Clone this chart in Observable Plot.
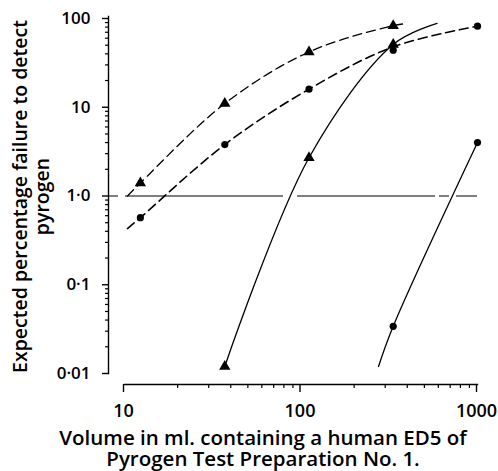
<!DOCTYPE html>
<html><head><meta charset="utf-8">
<script src="https://cdn.jsdelivr.net/npm/d3@7"></script>
<script src="https://cdn.jsdelivr.net/npm/@observablehq/plot@0.6"></script>
<style>body{margin:0;background:#fff} svg{display:block}</style>
</head><body><div id="chart"></div>
<script>
// Volumes (ml) of the test points
const volume = [12.3, 37, 111, 333, 1000];
// Points (triangles, dashed curve)
const triDashY = [1.4, 11, 42, 83];
// Points (circles, dashed curve)
const circDashY = [0.57, 3.8, 16, 44, 82];
// Points (triangles, solid curve)
const triSolidX = [37, 111, 333];
const triSolidY = [0.012, 2.7, 51];
// Points (circles, solid curve)
const circSolidX = [333, 1000];
const circSolidY = [0.034, 4.0];

// Curves (including their end points)
const triDashCurveX = [10.4, 12.3, 37, 111, 333, 400];
const triDashCurveY = [1.0, 1.4, 11, 42, 83, 88];
const circDashCurveX = [10.4, 12.3, 37, 111, 333, 1000];
const circDashCurveY = [0.43, 0.57, 3.8, 16, 48, 82];
const triSolidCurveX = [37, 111, 333, 590];
const triSolidCurveY = [0.012, 2.7, 51, 88];
const circSolidCurveX = [275, 333, 1000];
const circSolidCurveY = [0.012, 0.034, 4.0];

// Axes
const yTicks = [0.01, 0.1, 1, 10, 100];
const yTickLabels = ["0·01", "0·1", "1·0", "10", "100"];
const xTicks = [10, 100, 1000];
const xTickLabels = ["10", "100", "1000"];
const yMinor = [0.01, 0.1, 1, 10].flatMap(d => [2,3,4,5,6,7,8,9].map(k => d * k));
const xMinor = [10, 100].flatMap(d => [2,3,4,5,6,7,8,9].map(k => d * k));
const referenceLevel = [1];

const yLabel = "Expected percentage failure to detect\npyrogen";
const xLabel = "Volume in ml. containing a human ED5 of\nPyrogen Test Preparation No. 1.";

const zip = (xs, ys) => xs.map((x, i) => ({x, y: ys[i]}));
const font = "'Open Sans', Lato, sans-serif";

const chart = Plot.plot({
  width: 498,
  height: 471,
  marginLeft: 108,
  marginRight: 21,
  marginTop: 16,
  marginBottom: 87,
  x: {type: "log", domain: [10, 1000], range: [124, 477]},
  y: {type: "log", domain: [0.01, 100], range: [373, 18]},
  style: {fontFamily: font, color: "#000", background: "#fff"},
  marks: [
    Plot.frame({anchor: "left", insetBottom: 11, strokeWidth: 1.4}),
    Plot.frame({anchor: "bottom", insetLeft: 16, strokeWidth: 1.4}),
    Plot.axisY({ticks: yMinor, anchor: "left", tickSize: 3, text: null, label: null, strokeWidth: 1.2}),
    Plot.axisY({ticks: yTicks, anchor: "left", tickSize: 6, tickPadding: 12, label: null, strokeWidth: 1.4,
      tickFormat: d => yTickLabels[yTicks.indexOf(d)], fontSize: 17, fontWeight: 600}),
    Plot.axisX({ticks: xMinor, anchor: "bottom", tickSize: 4, text: null, label: null, strokeWidth: 1.2}),
    Plot.axisX({ticks: xTicks, anchor: "bottom", tickSize: 8, tickPadding: 12, label: null, strokeWidth: 1.4,
      tickFormat: d => xTickLabels[xTicks.indexOf(d)], fontSize: 18, fontWeight: 600, dx: -1}),
    Plot.ruleY(referenceLevel, {stroke: "#000", strokeWidth: 1.1, strokeDasharray: "10,7,158,14,138,4"}),
    Plot.line(zip(triDashCurveX, triDashCurveY), {x: "x", y: "y", curve: "catmull-rom", strokeWidth: 1.3, strokeDasharray: "9,5"}),
    Plot.line(zip(circDashCurveX, circDashCurveY), {x: "x", y: "y", curve: "catmull-rom", strokeWidth: 1.6, strokeDasharray: "9,5"}),
    Plot.line(zip(triSolidCurveX, triSolidCurveY), {x: "x", y: "y", curve: "catmull-rom", strokeWidth: 1.3}),
    Plot.line(zip(circSolidCurveX, circSolidCurveY), {x: "x", y: "y", curve: "catmull-rom", strokeWidth: 1.3}),
    Plot.dot(zip(volume.slice(0, 4), triDashY), {x: "x", y: "y", symbol: "triangle", r: 4.2, fill: "#000"}),
    Plot.dot(zip(volume, circDashY), {x: "x", y: "y", r: 3.6, fill: "#000"}),
    Plot.dot(zip(triSolidX, triSolidY), {x: "x", y: "y", symbol: "triangle", r: 4.2, fill: "#000"}),
    Plot.dot(zip(circSolidX, circSolidY), {x: "x", y: "y", r: 3.6, fill: "#000"}),
    Plot.text([yLabel], {frameAnchor: "left", dx: -60, dy: -4, rotate: -90, lineAnchor: "bottom", textAnchor: "middle", lineHeight: 1.08, fontSize: 19.5, fontWeight: 600}),
    Plot.text([xLabel], {frameAnchor: "bottom", dx: -30, dy: 81, lineAnchor: "bottom", textAnchor: "middle", lineHeight: 0.98, fontSize: 20.5, fontWeight: 600})
  ]
});
document.getElementById("chart").appendChild(chart);
</script>
</body></html>
